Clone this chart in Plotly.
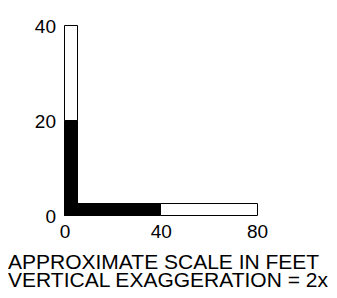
import plotly.graph_objects as go

# ---- data ----
x_ticks = [0, 40, 80]
y_ticks = [0, 20, 40]
h_starts = [0, 40]
h_lengths = [40, 40]
h_colors = ["black", "white"]
v_starts = [0, 20]
v_lengths = [20, 20]
v_colors = ["black", "white"]
h_thickness = 2.5   # in vertical feet
v_thickness = 5.4   # in horizontal feet
caption = ["APPROXIMATE SCALE IN FEET", "VERTICAL EXAGGERATION = 2x"]

# ---- layout geometry (figure pixels; page has an 8px body margin) ----
W, H = 329, 290
l, r, t, b = 49, 67, 8, 80
X0, X80 = 57, 249.5       # pixel of x=0 and x=80
Y0, Y40 = 208, 15         # pixel of y=0 and y=40
px_x = (X80 - X0) / 80
xr = [(l - X0) / px_x, 80 + (W - r - X80) / px_x]
px_y = (Y0 - Y40) / 40
yr = [-((H - b) - Y0) / px_y, 40 + (Y40 - t) / px_y]

FONT = "Liberation Sans, Arial, sans-serif"

fig = go.Figure()
for s, L, c in zip(v_starts, v_lengths, v_colors):
    fig.add_trace(go.Bar(
        x=[v_thickness / 2], y=[L], base=[s], width=[v_thickness],
        orientation="v", marker=dict(color=c, line=dict(color="black", width=1)),
        showlegend=False, hoverinfo="skip"))
for s, L, c in zip(h_starts, h_lengths, h_colors):
    fig.add_trace(go.Bar(
        y=[h_thickness / 2], x=[L], base=[s], width=[h_thickness],
        orientation="h", marker=dict(color=c, line=dict(color="black", width=1)),
        showlegend=False, hoverinfo="skip"))

pw = W - l - r
ph = H - t - b
def paper_x(px):
    return (px - l) / pw
def paper_y(py):
    return ((H - b) - py) / ph

for i, (txt, ypx) in enumerate(zip(caption, [254.5, 272.5])):
    fig.add_annotation(text=txt, xref="paper", yref="paper",
                       x=paper_x(-1), y=paper_y(ypx), xanchor="left", yanchor="middle",
                       showarrow=False, borderpad=0,
                       font=dict(size=21, color="black", family=FONT))

fig.update_layout(
    width=W, height=H, margin=dict(l=l, r=r, t=t, b=b, pad=0),
    barmode="overlay", bargap=0,
    plot_bgcolor="white", paper_bgcolor="white",
    font=dict(family=FONT, size=19, color="black"),
    xaxis=dict(type="linear", range=xr, tickvals=x_ticks, ticktext=[str(v) for v in x_ticks],
               showgrid=False, zeroline=False, showline=False, ticks="",
               fixedrange=True),
    yaxis=dict(type="linear", range=yr, tickvals=y_ticks, ticktext=[str(v) for v in y_ticks],
               showgrid=False, zeroline=False, showline=False, ticks="",
               fixedrange=True),
)

fig.write_html("out.html", config={"displayModeBar": False})
